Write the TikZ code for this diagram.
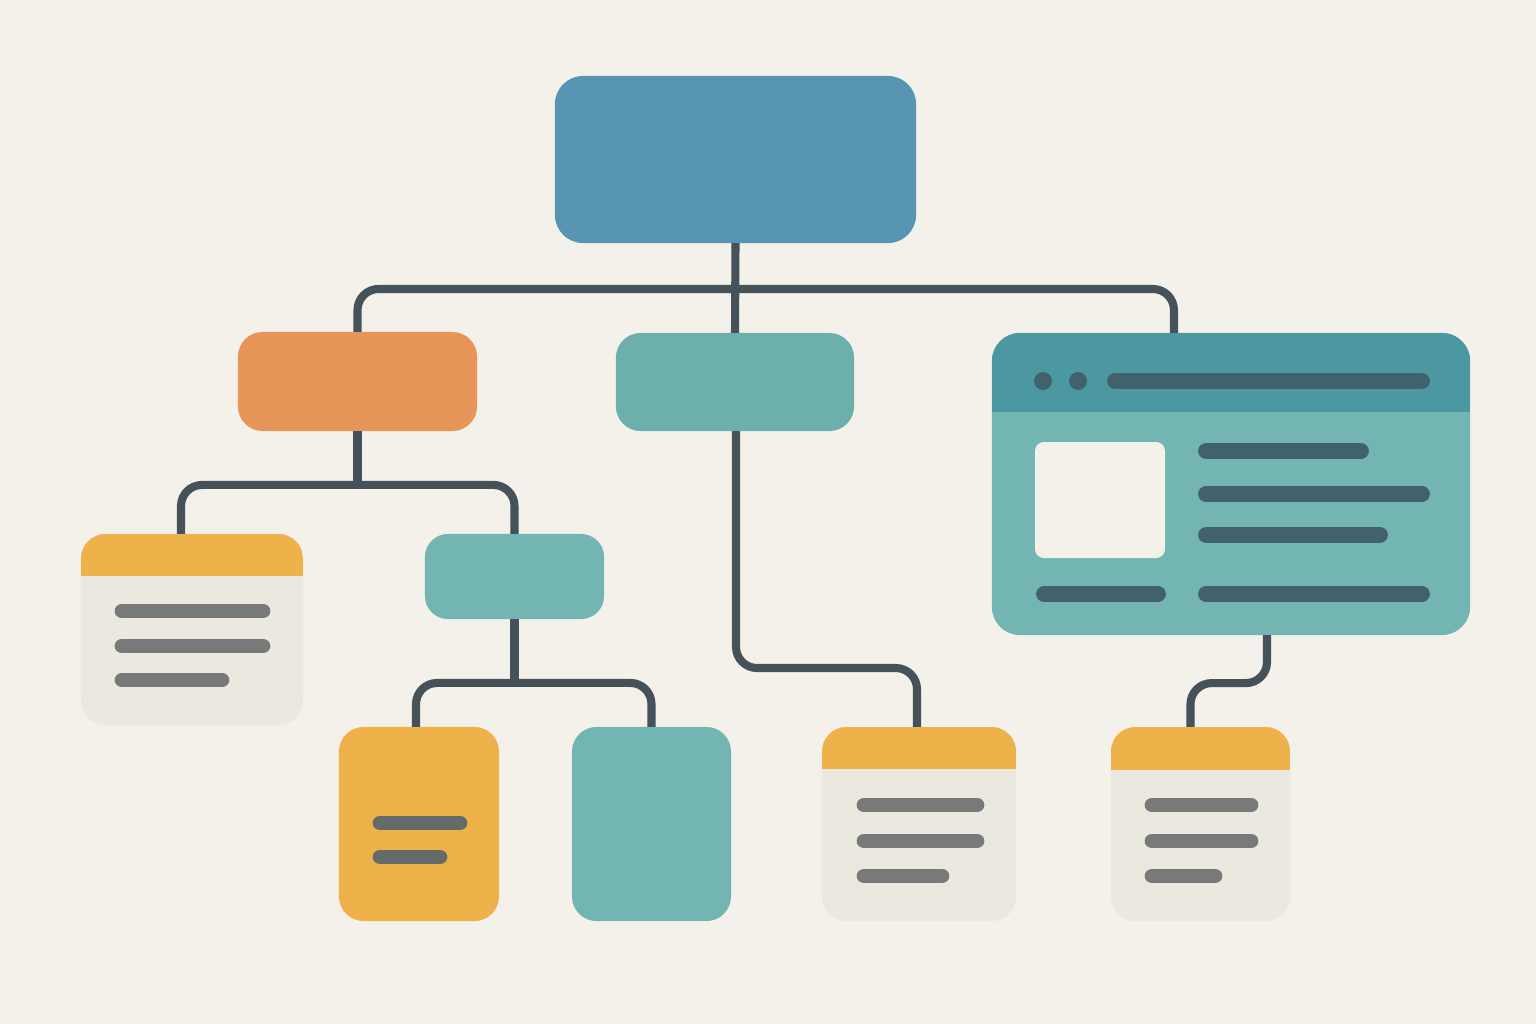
\documentclass[tikz,border=0pt]{standalone}
\definecolor{bgc}{HTML}{F4F1EA}
\definecolor{connc}{HTML}{46525A}
\definecolor{topblue}{HTML}{5895B3}
\definecolor{orangec}{HTML}{E8955A}
\definecolor{tealmid}{HTML}{6CAFAC}
\definecolor{teallight}{HTML}{72B5B3}
\definecolor{browhead}{HTML}{4B98A2}
\definecolor{browline}{HTML}{41626D}
\definecolor{yellowc}{HTML}{EFB24A}
\definecolor{cardbody}{HTML}{EBE8E0}
\definecolor{greyline}{HTML}{777A79}
\definecolor{darkline}{HTML}{646B68}
\begin{document}
\begin{tikzpicture}[x=0.01cm,y=-0.01cm,
  box/.style={draw=none, inner sep=0pt, outer sep=0pt, rounded corners=7pt},
  conn/.style={draw=connc, line width=2.3pt},
  txt/.style={line width=4.2pt, line cap=round, draw=greyline},
  btxt/.style={line width=4.5pt, line cap=round, draw=browline},
  ytxt/.style={line width=4.2pt, line cap=round, draw=darkline}]
\useasboundingbox (0,0) rectangle (1536,1024);
\fill[bgc] (0,0) rectangle (1536,1024);

% nodes
\node[box, fill=topblue, rounded corners=8pt, minimum width=3.61cm, minimum height=1.67cm] (top) at (735.5,159.5) {};
\node[box, fill=orangec, minimum width=2.39cm, minimum height=0.99cm] (orange) at (357.5,381.5) {};
\node[box, fill=tealmid, minimum width=2.38cm, minimum height=0.98cm] (mid) at (735,382) {};
\node[box, fill=teallight, rounded corners=8pt, minimum width=4.78cm, minimum height=3.02cm] (browser) at (1231,484) {};
\node[box, fill=cardbody, minimum width=2.22cm, minimum height=1.91cm] (card1) at (192,629.5) {};
\node[box, fill=teallight, rounded corners=6.5pt, minimum width=1.79cm, minimum height=0.85cm] (steal) at (514.5,576.5) {};
\node[box, fill=yellowc, minimum width=1.60cm, minimum height=1.94cm] (ybox) at (419,824) {};
\node[box, fill=teallight, minimum width=1.59cm, minimum height=1.94cm] (tbox) at (651.5,824) {};
\node[box, fill=cardbody, minimum width=1.94cm, minimum height=1.94cm] (card3) at (919,824) {};
\node[box, fill=cardbody, minimum width=1.79cm, minimum height=1.94cm] (card4) at (1200.5,824) {};

% headers
\begin{scope}
  \clip[rounded corners=8pt] (browser.south west) rectangle (browser.north east);
  \fill[browhead] (browser.north west) rectangle ([yshift=-0.79cm]browser.north east);
\end{scope}
\begin{scope}
  \clip[rounded corners=7pt] (card1.south west) rectangle (card1.north east);
  \fill[yellowc] (card1.north west) rectangle ([yshift=-0.42cm]card1.north east);
\end{scope}
\begin{scope}
  \clip[rounded corners=7pt] (card3.south west) rectangle (card3.north east);
  \fill[yellowc] (card3.north west) rectangle ([yshift=-0.42cm]card3.north east);
\end{scope}
\begin{scope}
  \clip[rounded corners=7pt] (card4.south west) rectangle (card4.north east);
  \fill[yellowc] (card4.north west) rectangle ([yshift=-0.43cm]card4.north east);
\end{scope}

% browser contents
\fill[browline] (1043,381) circle (9);
\fill[browline] (1078,381) circle (9);
\draw[btxt] (1115,381) -- (1422,381);
\fill[bgc, rounded corners=2.5pt] (1035,442) rectangle (1165,558);
\draw[btxt] (1206,451) -- (1361,451);
\draw[btxt] (1206,494) -- (1422,494);
\draw[btxt] (1206,535) -- (1380,535);
\draw[btxt] (1044,594) -- (1158,594);
\draw[btxt] (1206,594) -- (1422,594);

% card text lines
\draw[txt] (122,611) -- (263,611);
\draw[txt] (122,646) -- (263,646);
\draw[txt] (122,680) -- (222,680);
\draw[txt] (864,805) -- (977,805);
\draw[txt] (864,841) -- (977,841);
\draw[txt] (864,876) -- (942,876);
\draw[txt] (1152,805) -- (1251,805);
\draw[txt] (1152,841) -- (1251,841);
\draw[txt] (1152,876) -- (1215,876);
\draw[ytxt] (380,823) -- (460,823);
\draw[ytxt] (380,857) -- (440,857);

% connectors
\draw[conn] (top.south) -- (mid.north);
\draw[conn, rounded corners=6pt] (orange.north) -- ++(0,-43) -| ([xshift=-0.57cm]browser.north);
\draw[conn] (orange.south) -- ++(0,54);
\draw[conn, rounded corners=6pt] ([xshift=-0.11cm]card1.north) -- ++(0,-49) -| (steal.north);
\draw[conn] (steal.south) -- ++(0,64);
\draw[conn, rounded corners=6pt] ([xshift=-0.03cm]ybox.north) -- ++(0,-44) -| (tbox.north);
\draw[conn, rounded corners=6pt] ([xshift=0.01cm]mid.south) -- ++(0,237) -| ([xshift=-0.02cm]card3.north);
\draw[conn, rounded corners=6pt] ([xshift=0.36cm]browser.south) -- ++(0,48) -| ([xshift=-0.1cm]card4.north);
\end{tikzpicture}
\end{document}
